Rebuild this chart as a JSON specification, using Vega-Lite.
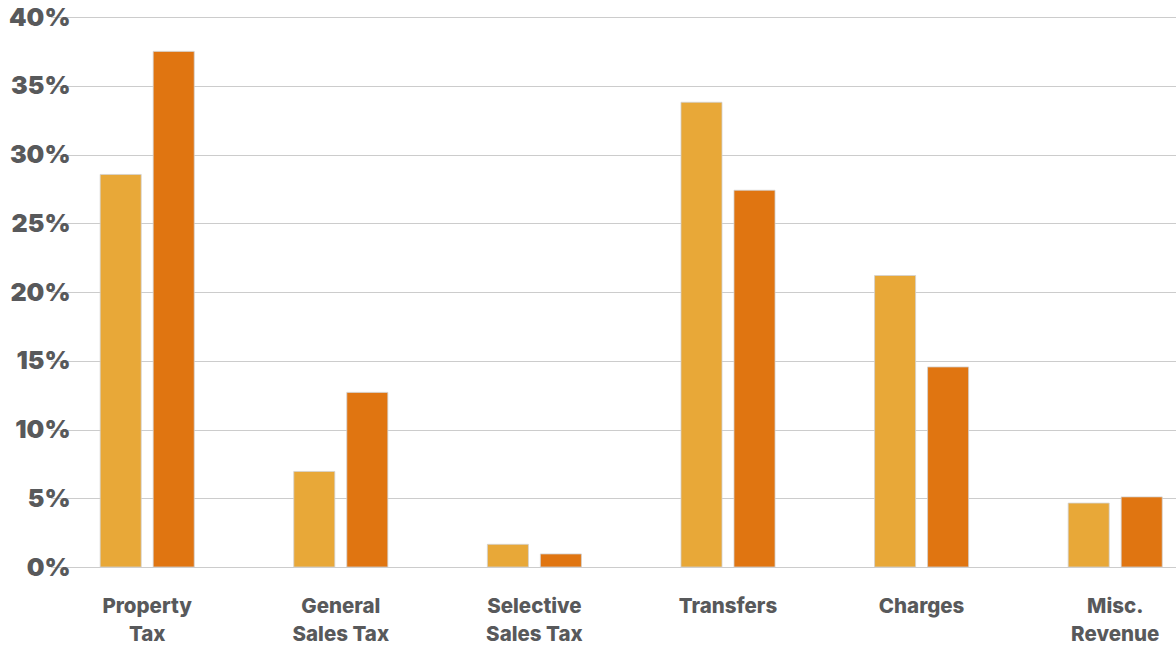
{
  "$schema": "https://vega.github.io/schema/vega-lite/v6.json",
  "autosize": "none",
  "width": 1096,
  "height": 550,
  "padding": {"left": 80, "top": 17, "right": 0, "bottom": 82},
  "background": "white",
  "config": {
    "view": {"stroke": null},
    "font": "Inter"
  },
  "data": {
    "values": [
      {"category": "Property Tax", "series": "first", "share": 28.55},
      {"category": "Property Tax", "series": "second", "share": 37.5},
      {"category": "General Sales Tax", "series": "first", "share": 6.95},
      {"category": "General Sales Tax", "series": "second", "share": 12.7},
      {"category": "Selective Sales Tax", "series": "first", "share": 1.65},
      {"category": "Selective Sales Tax", "series": "second", "share": 0.95},
      {"category": "Transfers", "series": "first", "share": 33.8},
      {"category": "Transfers", "series": "second", "share": 27.4},
      {"category": "Charges", "series": "first", "share": 21.2},
      {"category": "Charges", "series": "second", "share": 14.55},
      {"category": "Misc. Revenue", "series": "first", "share": 4.65},
      {"category": "Misc. Revenue", "series": "second", "share": 5.1}
    ]
  },
  "mark": {"type": "bar", "stroke": "#d2d2d2", "strokeWidth": 0.8},
  "encoding": {
    "x": {
      "field": "category",
      "type": "nominal",
      "sort": null,
      "scale": {"range": [-29.6, 1132], "paddingInner": 0, "paddingOuter": 0},
      "axis": {
        "title": null,
        "domain": false,
        "ticks": false,
        "labelAngle": 0,
        "labelPadding": 29,
        "labelBaseline": "top",
        "labelFont": "Inter",
        "labelFontWeight": 800,
        "labelFontSize": 20.5,
        "labelLineHeight": 28,
        "labelColor": "#58595b",
        "labelExpr": "indexof(datum.label, ' ') > 0 ? [substring(datum.label, 0, indexof(datum.label, ' ')), substring(datum.label, indexof(datum.label, ' ') + 1)] : datum.label"
      }
    },
    "xOffset": {
      "field": "series",
      "type": "nominal",
      "scale": {"paddingInner": 0.226, "paddingOuter": 0.939}
    },
    "y": {
      "field": "share",
      "type": "quantitative",
      "scale": {"domain": [0, 40], "nice": false},
      "axis": {
        "title": null,
        "domain": false,
        "ticks": false,
        "values": [0, 5, 10, 15, 20, 25, 30, 35, 40],
        "labelExpr": "datum.value + '%'",
        "labelPadding": 10,
        "labelFont": "Inter",
        "labelFontWeight": 900,
        "labelFontSize": 25,
        "labelColor": "#58595b",
        "gridColor": "#cccccc",
        "gridWidth": 1.2
      }
    },
    "color": {
      "field": "series",
      "type": "nominal",
      "scale": {"domain": ["first", "second"], "range": ["#e8a838", "#e07511"]},
      "legend": null
    }
  }
}
